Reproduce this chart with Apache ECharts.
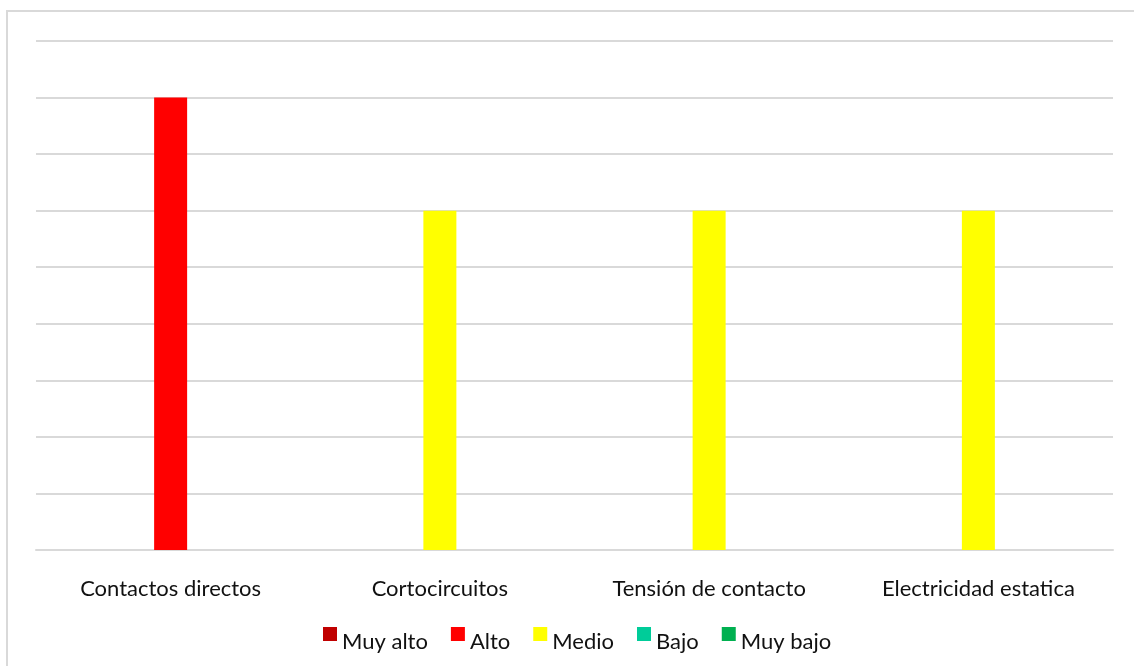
<!DOCTYPE html>
<html>
<head>
<meta charset="utf-8">
<script src="https://cdn.jsdelivr.net/npm/echarts@6/dist/echarts.min.js"></script>
<style>
  html, body { margin: 0; padding: 0; background: #fff; overflow: hidden; }
  #frame { position: absolute; left: 6px; top: 10px; width: 1200px; height: 700px;
           border: 2px solid #d9d9d9; box-sizing: border-box; }
  #chart { position: absolute; left: 0; top: 0; width: 1134px; height: 666px; }
</style>
</head>
<body>
<div id="frame"></div>
<div id="chart"></div>
<script>
// Risk level per electrical hazard
const categories = ['Contactos directos', 'Cortocircuitos', 'Tensión de contacto', 'Electricidad estatica'];
const levelNames = ['Muy alto', 'Alto', 'Medio', 'Bajo', 'Muy bajo'];
const levelColors = ['#C00000', '#FF0000', '#FFFF00', '#00CC99', '#00B050'];
const muyAlto = [0, 0, 0, 0];
const alto = [8, 0, 0, 0];
const medio = [0, 6, 6, 6];
const bajo = [0, 0, 0, 0];
const muyBajo = [0, 0, 0, 0];
const seriesValues = [muyAlto, alto, medio, bajo, muyBajo];

const chart = echarts.init(document.getElementById('chart'), null, { renderer: 'canvas' });

const fontFamily = 'Lato, "Open Sans", sans-serif';

chart.setOption({
  animation: false,
  backgroundColor: 'transparent',
  grid: { left: 36, right: 21, top: 41, bottom: 116, containLabel: false },
  legend: {
    top: 627,
    left: 323,
    padding: 0,
    itemWidth: 14,
    itemHeight: 14,
    itemGap: 23,
    icon: 'rect',
    formatter: '{t|{name}}',
    textStyle: {
      fontFamily: fontFamily, fontSize: 22, color: '#111',
      rich: { t: { fontFamily: fontFamily, fontSize: 22, color: '#111', padding: [16, 0, 0, 0] } }
    },
    data: levelNames
  },
  xAxis: {
    type: 'category',
    data: categories,
    axisLine: { show: true, lineStyle: { color: '#d9d9d9', width: 2 } },
    axisTick: { show: false },
    axisLabel: { fontFamily: fontFamily, fontSize: 22, color: '#111', margin: 28 }
  },
  yAxis: {
    type: 'value',
    min: 0,
    max: 9,
    interval: 1,
    axisLabel: { show: false },
    axisLine: { show: false },
    axisTick: { show: false },
    splitLine: { lineStyle: { color: '#d9d9d9', width: 2 } }
  },
  series: levelNames.map((name, i) => ({
    name: name,
    type: 'bar',
    stack: 'nivel',
    barWidth: 33,
    itemStyle: { color: levelColors[i] },
    data: seriesValues[i]
  }))
});
</script>
</body>
</html>
